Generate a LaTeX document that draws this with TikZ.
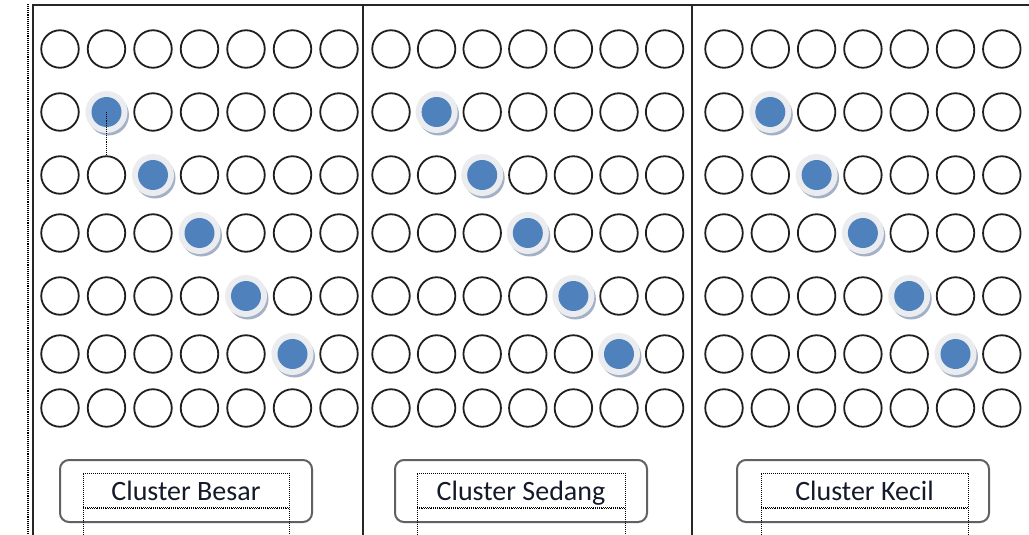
\documentclass[tikz,border=0pt]{standalone}
\usepackage{fontspec}
\setmainfont{Carlito}
\definecolor{dotblue}{HTML}{4F81BD}
\definecolor{halogray}{HTML}{EAECEF}
\definecolor{shadowblue}{HTML}{A3B0C6}
\definecolor{labeltext}{HTML}{141A2A}
\begin{document}
\begin{tikzpicture}[x=1pt,y=-1pt,
  ring/.style={circle,draw=black!88,line width=1.8pt,minimum size=37.5pt,inner sep=0pt},
  dot/.style={circle,fill=dotblue,minimum size=30pt,inner sep=0pt},
  halo/.style={circle,fill=halogray,minimum size=42pt,inner sep=0pt},
  dotshadow/.style={circle,fill=shadowblue,minimum size=41pt,inner sep=0pt},
  frameline/.style={line width=1.5pt,draw=black!85},
  labelbox/.style={draw=black!62,line width=2pt,rounded corners=9pt},
  guide/.style={densely dotted,line width=1.1pt},
  lbl/.style={font=\fontsize{28}{32}\selectfont,text=labeltext,anchor=base,inner sep=0pt}]
\fill[white] (0,0) rectangle (1029,535);
\useasboundingbox (0,0) rectangle (1029,535);
% frame
\draw[guide] (28,4) -- (28,535);
\draw[frameline] (33,535) -- (33,5) -- (1029,5);
\draw[frameline] (363,5) -- (363,535);
\draw[frameline] (692,5) -- (692,535);
% grid
\foreach \p/\xs/\dx in {1/60/46.5, 2/391/45.6, 3/724/46.3}{
  \foreach \r/\y in {1/49,2/112,3/175,4/233,5/296,6/354,7/408}{
    \foreach \c in {1,...,7}{
      \pgfmathsetmacro\xx{\xs+(\c-1)*\dx}
      \pgfmathtruncatemacro\isdot{and(\c==\r,and(\r>1,\r<7))}
      \ifnum\isdot=1
        \node[dotshadow] (s\p-\r) at (\xx+2,\y+3) {};
        \node[halo] (h\p-\r) at (\xx,\y) {};
        \node[dot] (d\p-\r) at (\xx,\y) {};
      \else
        \node[ring] (c\p-\r-\c) at (\xx,\y) {};
      \fi
    }
  }
}
\draw[guide] (d1-2.center) -- (c1-3-2.north);
% labels
\foreach \p/\xa/\xb/\ia/\ib/\t in {1/60/312/83/289/Cluster Besar, 2/395/647/417/625/Cluster Sedang, 3/737/989/761/968/Cluster Kecil}{
  \node[labelbox,minimum width=\xb-\xa,minimum height=62,inner sep=0pt] (box\p) at ({(\xa+\xb)/2},491) {};
  \coordinate (ia\p) at (\ia,535);
  \coordinate (ib\p) at (\ib,535);
  \draw[guide,line width=1pt] (ia\p) -- (\ia,473) -- (\ib,473) -- (ib\p);
  \draw[guide,line width=1pt] (\ia,507) -- (\ib,507);
  \draw[guide,line width=0.8pt] (\ia,508.8) -- (\ib,508.8);
  \node[lbl] (t\p) at ({(\ia+\ib)/2},500) {\t};
}
\end{tikzpicture}
\end{document}
